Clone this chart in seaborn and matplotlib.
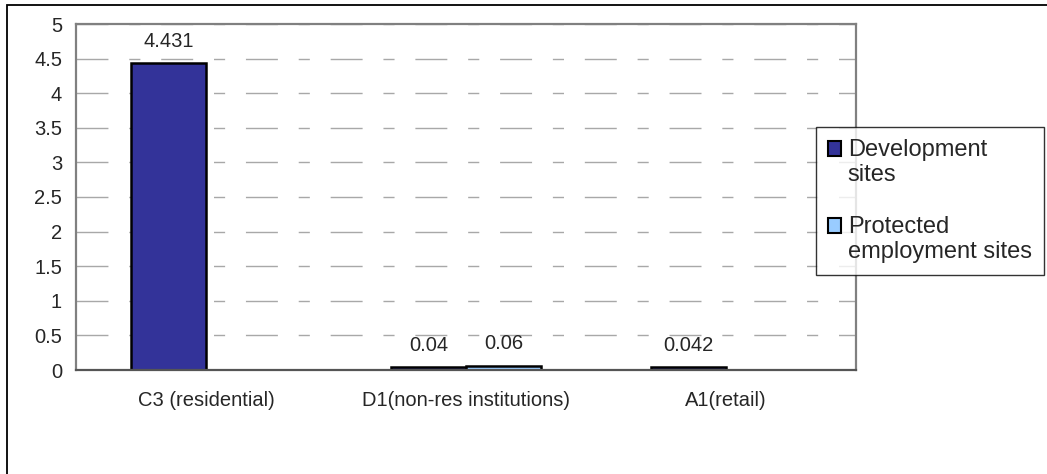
import pandas as pd
import seaborn as sns
import matplotlib.pyplot as plt
from matplotlib.patches import Rectangle, Patch

# --- datos ---
CATEGORIAS = ["C3 (residential)", "D1(non-res institutions)", "A1(retail)"]
SERIES = ["Development\nsites", "Protected\nemployment sites"]
DEVELOPMENT = [4.431, 0.04, 0.042]
PROTECTED = [0.0, 0.06, 0.0]
ETIQUETAS_DEV = ["4.431", "0.04", "0.042"]
ETIQUETAS_PROT = ["", "0.06", ""]
Y_TICKS = [0, 0.5, 1, 1.5, 2, 2.5, 3, 3.5, 4, 4.5, 5]

COLORES = {SERIES[0]: "#333399", SERIES[1]: "#99CCFF"}

df = pd.DataFrame({
    "cat": CATEGORIAS * 2,
    "serie": [SERIES[0]] * 3 + [SERIES[1]] * 3,
    "valor": DEVELOPMENT + PROTECTED,
})

sns.set_style("white")
plt.rcParams["font.family"] = ["Liberation Sans", "DejaVu Sans"]
FS = 14.5

fig = plt.figure(figsize=(10.47, 4.74), dpi=100)
ax = fig.add_axes([76 / 1047, 1 - 370 / 474, 780 / 1047, 346 / 474])

sns.barplot(data=df, x="cat", y="valor", hue="serie", order=CATEGORIAS,
            hue_order=SERIES, palette=COLORES, width=0.577, ax=ax,
            edgecolor="black", linewidth=1.8, legend=False, saturation=1)

# barras con valor 0 no se ven (como en Excel)
for p in ax.patches:
    if p.get_height() == 0:
        p.set_visible(False)

# etiquetas de valores
for cont, labels in zip(ax.containers, [ETIQUETAS_DEV, ETIQUETAS_PROT]):
    ax.bar_label(cont, labels=labels, padding=9, fontsize=FS)

ax.set_xlim(-0.5, 2.5)
ax.set_ylim(0, 5)
ax.set_yticks(Y_TICKS)
ax.set_yticklabels([f"{t:g}" for t in Y_TICKS], fontsize=FS)
ax.set_xlabel("")
ax.set_ylabel("")
ax.tick_params(axis="x", length=0, labelsize=FS, pad=15)
ax.set_xticks([-0.5, 0.5, 1.5, 2.5], minor=True)
ax.tick_params(axis="x", which="minor", length=5, color="#808080", width=1.3)
ax.tick_params(axis="y", length=6, color="#808080", width=1.3, pad=4)

ax.yaxis.grid(True, color="#a8a8a8", linewidth=1.0, linestyle=(0, (23, 15, 8, 15)))
ax.set_axisbelow(True)
for s in ax.spines.values():
    s.set_visible(True)
    s.set_color("#808080")
    s.set_linewidth(1.6)
ax.spines["bottom"].set_color("#555555")

# leyenda estilo Excel
LFS = 17
handles = [Patch(facecolor=COLORES[s], edgecolor="black", linewidth=1.5, label=s) for s in SERIES]
leg = fig.legend(handles=handles, loc="upper left", bbox_to_anchor=(816 / 1047, 1 - 127 / 474),
                 fontsize=LFS, frameon=True, fancybox=False, edgecolor="black",
                 handlelength=0.55, handleheight=0.55, handletextpad=0.3,
                 labelspacing=1.25, borderpad=0.5, borderaxespad=0)
leg.get_frame().set_linewidth(1.0)
for t in leg.get_texts():
    t.set_linespacing(1.2)
# cuadrado alineado con la primera línea del texto
for h in leg.legend_handles:
    h.set_y(h.get_y() + 0.6 * LFS)

# borde exterior
fig.patches.append(Rectangle((7 / 1047, -0.01), 1.05, 1 - 5 / 474 + 0.01, transform=fig.transFigure,
                             fill=False, edgecolor="black", linewidth=1.3))

fig.savefig("out.png", dpi=100)
